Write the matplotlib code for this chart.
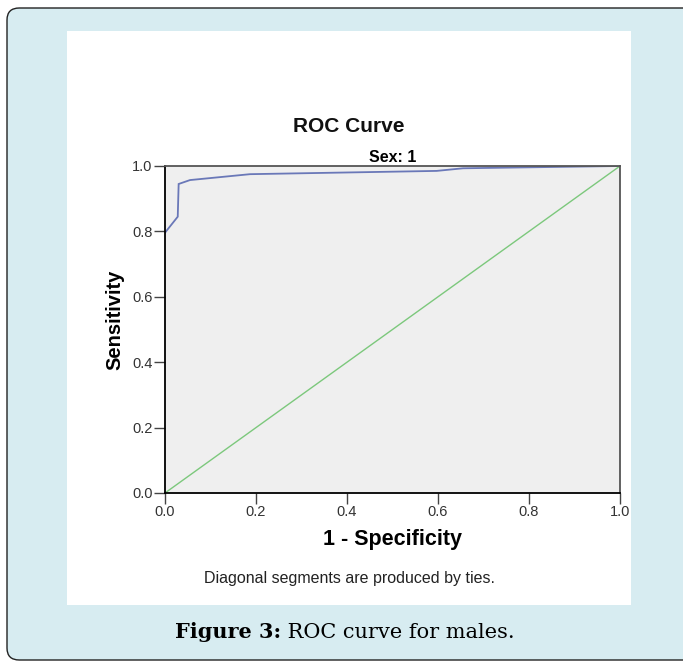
import matplotlib
matplotlib.use("Agg")
import matplotlib.pyplot as plt
from matplotlib.patches import FancyBboxPatch, Rectangle

# ROC curve points
fpr = [0.0, 0.028, 0.030, 0.055, 0.187, 0.597, 0.655, 1.0]
tpr = [0.796, 0.845, 0.945, 0.957, 0.975, 0.985, 0.993, 1.0]
ref_line = [0.0, 1.0]
ticks = [0.0, 0.2, 0.4, 0.6, 0.8, 1.0]
tick_labels = ["0.0", "0.2", "0.4", "0.6", "0.8", "1.0"]

W, H = 683, 665
fig = plt.figure(figsize=(W / 100, H / 100), dpi=100)
plt.rcParams['font.family'] = ['Liberation Sans', 'DejaVu Sans']

# page background: blue rounded box and white panel
fig.patches.append(FancyBboxPatch((7 / W, 5 / H), 700 / W, 652 / H,
                                  boxstyle="round,pad=0,rounding_size=0.018",
                                  transform=fig.transFigure, facecolor="#d7ecf1",
                                  edgecolor="#222222", linewidth=1.0, zorder=-10))
fig.patches.append(Rectangle((67 / W, (H - 605) / H), 564 / W, 574 / H,
                             transform=fig.transFigure, facecolor="white",
                             edgecolor="none", zorder=-9))

ax = fig.add_axes([165 / W, (H - 493) / H, 455 / W, 327 / H])
ax.set_facecolor("#efefef")
ax.plot(fpr, tpr, color="#6a78b8", lw=1.3, solid_joinstyle="miter")
ax.plot(ref_line, ref_line, color="#7cc87c", lw=1.0)
ax.set_xlim(0, 1)
ax.set_ylim(0, 1)
ax.set_xticks(ticks)
ax.set_xticklabels(tick_labels)
ax.set_yticks(ticks)
ax.set_yticklabels(tick_labels)
ax.tick_params(direction="out", length=8, width=1.0, color="#444444",
               labelsize=10.5, labelcolor="#333333", pad=1)
for s in ["left", "bottom"]:
    ax.spines[s].set_color("black")
    ax.spines[s].set_linewidth(1.3)
for s in ["top", "right"]:
    ax.spines[s].set_color("#555555")
    ax.spines[s].set_linewidth(1.3)

ax.set_title("Sex: 1", fontsize=11.5, fontweight="bold", pad=3)
ax.set_xlabel("1 - Specificity", fontsize=15.5, fontweight="bold", labelpad=7)
ax.set_ylabel("Sensitivity", fontsize=14.5, fontweight="bold")
ax.yaxis.set_label_coords(-0.09, 0.53)

fig.text(349 / W, (H - 127) / H, "ROC Curve", ha="center", va="center",
         fontsize=15, fontweight="bold", color="#111111")
fig.text(349 / W, (H - 579) / H, "Diagonal segments are produced by ties.",
         ha="center", va="center", fontsize=11.5, color="#222222")

# caption: bold label followed by regular text
t1 = fig.text(175 / W, (H - 638) / H, "Figure 3:", ha="left", va="baseline",
              fontsize=15, fontweight="bold", family="DejaVu Serif")
ax.annotate(" ROC curve for males.", xy=(1, 0), xycoords=t1, va="bottom",
            ha="left", fontsize=15, family="DejaVu Serif",
            annotation_clip=False)

fig.savefig("out.png", dpi=100)
